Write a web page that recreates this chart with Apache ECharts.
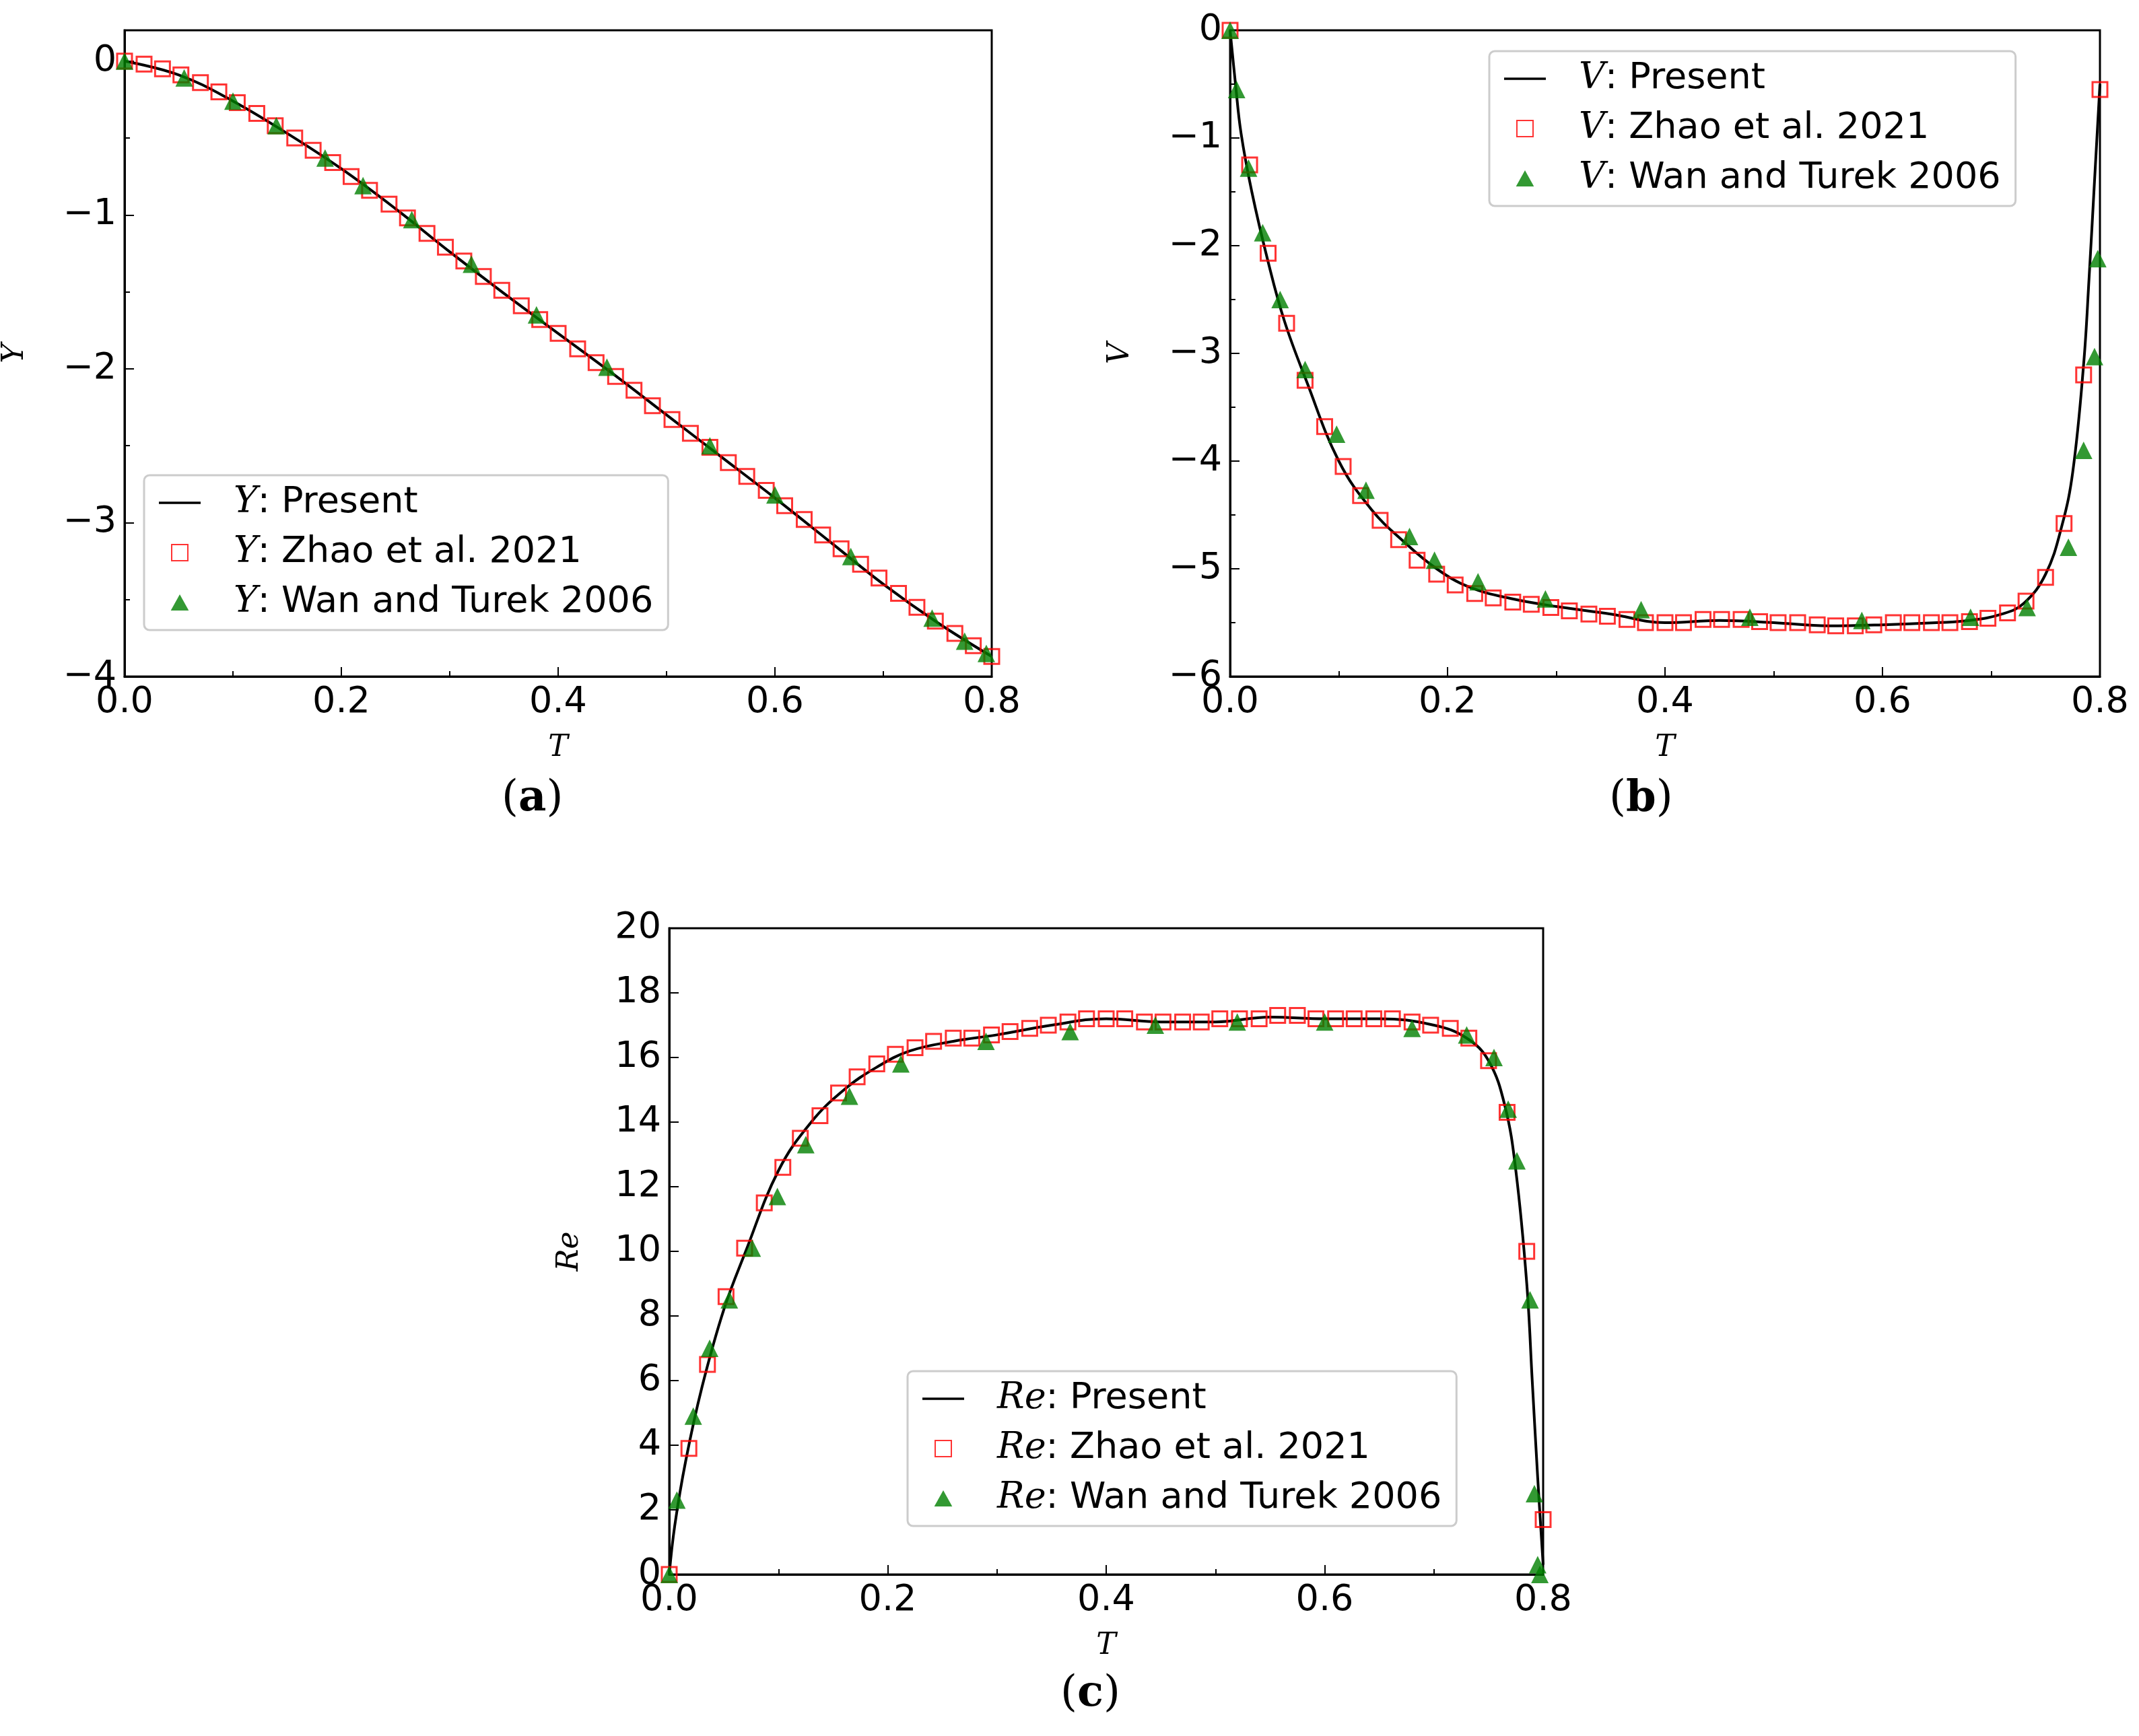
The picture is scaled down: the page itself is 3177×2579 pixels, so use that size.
<!DOCTYPE html>
<html>
<head>
<meta charset="utf-8">
<title>Y, V, Re vs T</title>
<script src="https://cdn.jsdelivr.net/npm/echarts@6/dist/echarts.min.js"></script>
<style>body{margin:0;background:#fff}</style>
</head>
<body>
<div id="main" style="width:3177px;height:2579px;"></div>
<script>
// ---- panel (a): Y ----
var yLineT = [0, 0.05, 0.1, 0.15, 0.2, 0.25, 0.3, 0.35, 0.4, 0.45, 0.5, 0.55, 0.6, 0.65, 0.7, 0.75, 0.8];
var yLineV = [0, -0.09, -0.26, -0.47, -0.7, -0.96, -1.24, -1.51, -1.77, -2.03, -2.3, -2.57, -2.84, -3.12, -3.4, -3.65, -3.87];
var yZhaoT = [0, 0.018, 0.035, 0.052, 0.07, 0.087, 0.104, 0.122, 0.139, 0.157, 0.174, 0.192, 0.209, 0.226, 0.244, 0.261, 0.279, 0.296, 0.313, 0.331, 0.348, 0.366, 0.383, 0.4, 0.418, 0.435, 0.453, 0.47, 0.487, 0.505, 0.522, 0.54, 0.557, 0.574, 0.592, 0.609, 0.627, 0.644, 0.661, 0.679, 0.696, 0.714, 0.731, 0.748, 0.766, 0.783, 0.8];
var yZhaoV = [0, -0.02, -0.05, -0.09, -0.14, -0.2, -0.27, -0.34, -0.42, -0.5, -0.58, -0.66, -0.75, -0.84, -0.93, -1.02, -1.12, -1.21, -1.3, -1.4, -1.49, -1.59, -1.68, -1.77, -1.87, -1.96, -2.05, -2.14, -2.24, -2.33, -2.42, -2.51, -2.61, -2.7, -2.79, -2.89, -2.98, -3.08, -3.17, -3.27, -3.36, -3.46, -3.55, -3.64, -3.72, -3.8, -3.87];
var yWanT = [0, 0.055, 0.1, 0.14, 0.185, 0.22, 0.265, 0.32, 0.38, 0.445, 0.54, 0.6, 0.67, 0.745, 0.775, 0.795];
var yWanV = [0, -0.11, -0.26, -0.42, -0.63, -0.81, -1.03, -1.32, -1.65, -1.99, -2.5, -2.82, -3.22, -3.62, -3.77, -3.85];

// ---- panel (b): V ----
var vLineT = [0, 0.005, 0.01, 0.02, 0.035, 0.05, 0.07, 0.1, 0.13, 0.16, 0.19, 0.22, 0.26, 0.3, 0.35, 0.4, 0.45, 0.5, 0.55, 0.6, 0.65, 0.68, 0.71, 0.73, 0.75, 0.765, 0.775, 0.785, 0.79, 0.795, 0.8];
var vLineV = [0, -0.5, -0.95, -1.5, -2.15, -2.7, -3.25, -4.0, -4.45, -4.75, -5.0, -5.17, -5.28, -5.35, -5.42, -5.5, -5.48, -5.5, -5.53, -5.52, -5.5, -5.48, -5.42, -5.32, -5.05, -4.6, -4.1, -3.1, -2.3, -1.4, -0.5];
var vZhaoT = [0, 0.018, 0.035, 0.052, 0.069, 0.087, 0.104, 0.12, 0.138, 0.155, 0.172, 0.19, 0.207, 0.225, 0.242, 0.26, 0.277, 0.295, 0.312, 0.33, 0.347, 0.365, 0.382, 0.4, 0.417, 0.435, 0.452, 0.47, 0.487, 0.504, 0.522, 0.54, 0.557, 0.575, 0.592, 0.61, 0.627, 0.645, 0.662, 0.68, 0.697, 0.715, 0.732, 0.75, 0.767, 0.785, 0.8];
var vZhaoV = [0, -1.25, -2.07, -2.72, -3.25, -3.68, -4.05, -4.32, -4.55, -4.73, -4.92, -5.05, -5.15, -5.23, -5.27, -5.31, -5.33, -5.36, -5.39, -5.42, -5.44, -5.47, -5.5, -5.5, -5.5, -5.47, -5.47, -5.47, -5.49, -5.5, -5.5, -5.52, -5.53, -5.53, -5.52, -5.5, -5.5, -5.5, -5.5, -5.49, -5.46, -5.41, -5.3, -5.08, -4.58, -3.2, -0.55];
var vWanT = [0, 0.006, 0.017, 0.03, 0.046, 0.069, 0.098, 0.125, 0.165, 0.188, 0.228, 0.29, 0.378, 0.478, 0.581, 0.681, 0.733, 0.771, 0.785, 0.795, 0.798];
var vWanV = [0, -0.55, -1.28, -1.88, -2.5, -3.15, -3.75, -4.27, -4.7, -4.92, -5.12, -5.28, -5.38, -5.45, -5.48, -5.45, -5.36, -4.8, -3.9, -3.03, -2.12];

// ---- panel (c): Re ----
var reLineT = [0, 0.005, 0.015, 0.03, 0.05, 0.07, 0.1, 0.13, 0.16, 0.19, 0.22, 0.26, 0.3, 0.35, 0.4, 0.45, 0.5, 0.55, 0.6, 0.65, 0.7, 0.73, 0.75, 0.765, 0.775, 0.785, 0.79, 0.795, 0.8];
var reLineV = [0, 1.5, 3.5, 5.8, 8.2, 10.0, 12.5, 14.0, 15.0, 15.7, 16.2, 16.5, 16.7, 17.0, 17.2, 17.1, 17.1, 17.25, 17.2, 17.2, 17.0, 16.6, 15.9, 14.5, 12.5, 9.0, 6.0, 3.0, 0.3];
var reZhaoT = vZhaoT;
var reZhaoV = [0, 3.9, 6.5, 8.6, 10.1, 11.5, 12.6, 13.5, 14.2, 14.9, 15.4, 15.8, 16.1, 16.3, 16.5, 16.6, 16.6, 16.7, 16.8, 16.9, 17.0, 17.1, 17.2, 17.2, 17.2, 17.1, 17.1, 17.1, 17.1, 17.2, 17.2, 17.2, 17.3, 17.3, 17.2, 17.2, 17.2, 17.2, 17.2, 17.1, 17.0, 16.9, 16.6, 15.9, 14.3, 10.0, 1.7];
var reWanT = [0, 0.007, 0.022, 0.037, 0.055, 0.076, 0.099, 0.125, 0.165, 0.212, 0.29, 0.367, 0.445, 0.52, 0.6, 0.68, 0.73, 0.755, 0.768, 0.776, 0.788, 0.792, 0.795, 0.797];
var reWanV = [0, 2.3, 4.9, 7.0, 8.5, 10.1, 11.7, 13.3, 14.8, 15.8, 16.5, 16.8, 17.0, 17.1, 17.1, 16.9, 16.7, 16.0, 14.4, 12.8, 8.5, 2.5, 0.3, 0];

function zip(a, b) { return a.map(function (v, i) { return [v, b[i]]; }); }

var FS = 54;
var panels = [
  { sym: 'Y', grid: { left: 183, top: 45, width: 1290, height: 960 }, yMin: -4, yMax: 0.2, yInt: 1, ySplit: 2,
    legend: { left: 214, top: 706 }, data: [[yLineT, yLineV], [yZhaoT, yZhaoV], [yWanT, yWanV]] },
  { sym: 'V', grid: { left: 1827, top: 45, width: 1292, height: 960 }, yMin: -6, yMax: 0, yInt: 1, ySplit: 2,
    legend: { left: 2212, top: 76 }, data: [[vLineT, vLineV], [vZhaoT, vZhaoV], [vWanT, vWanV]] },
  { sym: 'Re', grid: { left: 994, top: 1379, width: 1298, height: 960 }, yMin: 0, yMax: 20, yInt: 2, ySplit: 1,
    legend: { left: 1348, top: 2037 }, data: [[reLineT, reLineV], [reZhaoT, reZhaoV], [reWanT, reWanV]] }
];

var option = { animation: false, backgroundColor: '#fff', grid: [], xAxis: [], yAxis: [], series: [], legend: [], graphic: [] };
var axisCommon = {
  axisLine: { show: true, onZero: false, lineStyle: { color: '#000', width: 3 } },
  axisTick: { show: true, inside: true, length: 14, lineStyle: { color: '#000', width: 2 } },
  minorTick: { show: true, length: 8, lineStyle: { color: '#000', width: 2 } },
  splitLine: { show: false },
  axisLabel: { color: '#000', fontSize: FS, fontFamily: 'DejaVu Sans', margin: 12 }
};
var rich = { i: { fontFamily: 'DejaVu Serif', fontStyle: 'italic', fontSize: FS, color: '#000' } };

panels.forEach(function (p, k) {
  option.grid.push(Object.assign({ show: true, borderColor: '#000', borderWidth: 3 }, p.grid));
  option.xAxis.push(Object.assign({}, axisCommon, {
    gridIndex: k, type: 'value', min: 0, max: 0.8, interval: 0.2,
    minorTick: Object.assign({ splitNumber: 2 }, axisCommon.minorTick),
    axisLabel: Object.assign({}, axisCommon.axisLabel, { formatter: function (v) { return v.toFixed(1); } }),
    name: 'T', nameLocation: 'middle', nameGap: 85,
    nameTextStyle: { fontFamily: 'DejaVu Serif', fontStyle: 'italic', fontSize: 44, color: '#000' }
  }));
  option.yAxis.push(Object.assign({}, axisCommon, {
    gridIndex: k, type: 'value', min: p.yMin, max: p.yMax, interval: p.yInt,
    minorTick: Object.assign({ splitNumber: p.ySplit, show: p.ySplit > 1 }, axisCommon.minorTick),
    axisLabel: Object.assign({}, axisCommon.axisLabel, { showMaxLabel: p.yMax % p.yInt === 0,
      formatter: function (v) { return String(v).replace('-', '\u2212'); } }),
    name: p.sym, nameLocation: 'middle', nameGap: p.sym === 'Re' ? 125 : 140, nameRotate: 90,
    nameTextStyle: { fontFamily: 'DejaVu Serif', fontStyle: 'italic', fontSize: 44, color: '#000' }
  }));
  var names = [p.sym + ': Present', p.sym + ': Zhao et al. 2021', p.sym + ': Wan and Turek 2006'];
  option.series.push({ name: names[0], type: 'line', xAxisIndex: k, yAxisIndex: k, data: zip(p.data[0][0], p.data[0][1]),
    smooth: 0.4, showSymbol: false, symbol: 'none', lineStyle: { color: '#000', width: 4 }, itemStyle: { color: '#000' }, z: 3 });
  option.series.push({ name: names[1], type: 'scatter', xAxisIndex: k, yAxisIndex: k, data: zip(p.data[1][0], p.data[1][1]),
    symbol: 'rect', symbolSize: 22, itemStyle: { color: 'rgba(0,0,0,0)', borderColor: '#ff0000', borderWidth: 3 }, z: 4 });
  option.series.push({ name: names[2], type: 'scatter', xAxisIndex: k, yAxisIndex: k, data: zip(p.data[2][0], p.data[2][1]),
    symbol: 'triangle', symbolSize: 26, itemStyle: { color: '#008000' }, z: 5 });
  option.legend.push({
    left: p.legend.left, top: p.legend.top, orient: 'vertical',
    data: [
      { name: names[0], icon: 'path://M0,0H100V6H0Z' },
      { name: names[1], icon: 'path://M0,0H10V10H0Z' },
      { name: names[2], icon: 'path://M5,0L10,9H0Z' }
    ],
    backgroundColor: 'rgba(255,255,255,0.8)', borderColor: '#ccc', borderWidth: 3, borderRadius: 8,
    padding: [14, 22, 14, 22], itemGap: 20, itemWidth: 62, itemHeight: 24,
    textStyle: { fontSize: FS, fontFamily: 'DejaVu Sans', color: '#000', rich: rich, padding: [0, 0, 0, 44] },
    formatter: function (n) { var s = n.split(':'); return '{i|' + s[0] + '}:' + s[1]; }
  });
});

var labelRich = { b: { fontFamily: 'DejaVu Serif', fontSize: 64, fontWeight: 'bold', fill: '#000' } };
var labelStyle = { fontFamily: 'DejaVu Serif', fontSize: 64, fill: '#000', rich: labelRich };
option.graphic = [
  { type: 'text', left: 745, top: 1155, style: Object.assign({ text: '({b|a})' }, labelStyle) },
  { type: 'text', left: 2390, top: 1155, style: Object.assign({ text: '({b|b})' }, labelStyle) },
  { type: 'text', left: 1575, top: 2485, style: Object.assign({ text: '({b|c})' }, labelStyle) }
];

var chart = echarts.init(document.getElementById('main'));
chart.setOption(option);
</script>
</body>
</html>
